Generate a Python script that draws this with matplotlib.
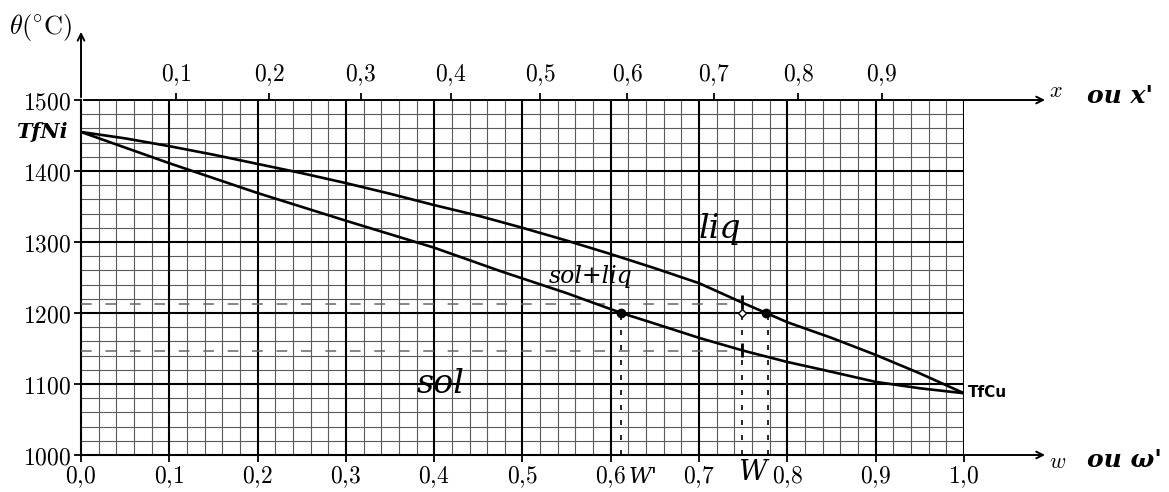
import numpy as np
import matplotlib
matplotlib.use("Agg")
import matplotlib.pyplot as plt

plt.rcParams['mathtext.fontset'] = 'cm'
plt.rcParams['font.family'] = ['DejaVu Serif']

# Data: mass fraction w of Cu and temperature (°C)
liq_w = [0.0, 0.05, 0.1, 0.15, 0.2, 0.25, 0.3, 0.35, 0.4, 0.45, 0.5, 0.55, 0.6,
         0.65, 0.7, 0.75, 0.776, 0.8, 0.85, 0.9, 0.95, 1.0]
liq_T = [1455, 1446, 1435, 1423, 1410, 1397, 1383, 1368, 1352, 1337, 1320, 1302, 1283,
         1263, 1242, 1214, 1200, 1187, 1165, 1141, 1115, 1087]
sol_w = [0.0, 0.1, 0.2, 0.3, 0.4, 0.475, 0.55, 0.612, 0.65, 0.7, 0.75, 0.8, 0.84,
         0.9, 0.95, 1.0]
sol_T = [1455, 1411, 1369, 1330, 1292, 1259, 1228, 1200, 1185, 1165, 1147, 1131, 1120,
         1103, 1094, 1087]
M_Ni, M_Cu = 58.69, 63.55
bottom_ticks = [0.0, 0.1, 0.2, 0.3, 0.4, 0.5, 0.6, 0.7, 0.8, 0.9, 1.0]
top_ticks = [0.1, 0.2, 0.3, 0.4, 0.5, 0.6, 0.7, 0.8, 0.9]
y_ticks = [1000, 1100, 1200, 1300, 1400, 1500]
dots_w = [0.612, 0.776]
dots_T = [1200, 1200]
vlines_w = [0.612, 0.749, 0.778]
vlines_top = [1200, 1215, 1200]
pencil_T = [1212, 1146]

def w2x(w):
    w = np.asarray(w, dtype=float)
    a = w / M_Cu
    b = (1 - w) / M_Ni
    with np.errstate(divide='ignore', invalid='ignore'):
        return a / (a + b)

def x2w(x):
    x = np.asarray(x, dtype=float)
    a = x * M_Cu
    b = (1 - x) * M_Ni
    with np.errstate(divide='ignore', invalid='ignore'):
        return a / (a + b)

def fr(v, nd=1):
    return r'$' + (f'{v:.{nd}f}').replace('.', '{,}') + r'$'

fig = plt.figure(figsize=(11.69, 4.92), dpi=100)
ax = fig.add_axes([0.0693, 0.0752, 0.7553, 0.7215])
ax.set_xlim(0, 1.0)
ax.set_ylim(1000, 1500)

# grid
for v in np.arange(0.02, 1.0, 0.02):
    if abs(v * 10 - round(v * 10)) > 1e-6:
        ax.axvline(v, color='#5a5a5a', lw=0.8, zorder=1)
for v in np.arange(1020, 1500, 20):
    if v % 100 != 0:
        ax.axhline(v, color='#5a5a5a', lw=0.8, zorder=1)
for v in bottom_ticks[1:]:
    ax.axvline(v, color='black', lw=1.5, zorder=2)
for v in y_ticks[1:-1]:
    ax.axhline(v, color='black', lw=1.5, zorder=2)

# pencil dashes
for t in pencil_T:
    ax.plot([0.0, 0.745], [t, t], color='#666666', lw=1.1, ls=(0, (7, 9)), zorder=3)
for w, t in zip(vlines_w, vlines_top):
    ax.plot([w, w], [1000, t], color='black', lw=1.2, ls=(0, (3, 6)), zorder=3)

# curves
ax.plot(liq_w, liq_T, color='black', lw=1.9, zorder=4)
ax.plot(sol_w, sol_T, color='black', lw=1.9, zorder=4)
ax.plot(dots_w, dots_T, 'o', color='black', ms=6, zorder=5)
ax.plot([0.749], [1200], 'D', mfc='white', mec='black', ms=4, zorder=5)
ax.plot([0.749, 0.749], [1215, 1148], '|', color='black', ms=10, mew=2, zorder=5)

# spines / axes
for s in ['right', 'top']:
    ax.spines[s].set_visible(False)
ax.spines['left'].set_linewidth(1.5)
ax.spines['bottom'].set_linewidth(1.5)
ax.set_xticks(bottom_ticks)
ax.set_xticklabels([fr(v) for v in bottom_ticks], fontsize=17)
ax.set_yticks(y_ticks)
ax.set_yticklabels([r'$%d$' % v for v in y_ticks], fontsize=17)
ax.tick_params(axis='both', direction='out', length=5, width=1.3, pad=2)

sec = ax.secondary_xaxis('top', functions=(w2x, x2w))
sec.set_xticks(top_ticks)
sec.set_xticklabels([fr(v) for v in top_ticks], fontsize=17)
sec.tick_params(direction='out', length=5, width=1.3, pad=4)
sec.spines['top'].set_visible(False)

# axis arrows
arr = dict(arrowstyle='->', lw=1.4, color='black', mutation_scale=12)
ax.annotate('', xy=(1.095, 1.0), xytext=(0, 1.0), xycoords='axes fraction',
            textcoords='axes fraction', arrowprops=arr, annotation_clip=False)
ax.annotate('', xy=(1.095, 0.0), xytext=(0, 0.0), xycoords='axes fraction',
            textcoords='axes fraction', arrowprops=arr, annotation_clip=False)
ax.annotate('', xy=(0, 1.2), xytext=(0, 1.0), xycoords='axes fraction',
            textcoords='axes fraction', arrowprops=arr, annotation_clip=False)

# labels
fig.text(0.008, 0.945, r'$\theta(^{\circ}\mathrm{C})$', fontsize=19, va='center', ha='left')
fig.text(0.897, 0.815, r'$x$', fontsize=16, va='center')
fig.text(0.93, 0.805, "ou x'", fontsize=18, style='italic', fontweight='bold', va='center')
fig.text(0.897, 0.060, r'$w$', fontsize=16, va='center')
fig.text(0.93, 0.065, "ou ω'", fontsize=18, style='italic', fontweight='bold', va='center')

ax.text(-0.015, 1455, 'TfNi', fontsize=15, style='italic', fontweight='bold',
        ha='right', va='center', family='DejaVu Serif')
ax.text(1.005, 1088, 'TfCu', fontsize=11, fontweight='bold', ha='left', va='center',
        family='DejaVu Sans')

ax.text(0.70, 1318, 'liq', fontsize=24, style='italic', ha='left', va='center', zorder=6)
ax.text(0.53, 1252, 'sol+liq', fontsize=17, style='italic', ha='left', va='center', zorder=6)
ax.text(0.38, 1100, 'sol', fontsize=24, style='italic', ha='left', va='center', zorder=6)
ax.text(0.62, 985, "W'", fontsize=16, ha='left', va='top', style='italic')
ax.text(0.76, 995, "W", fontsize=20, ha='center', va='top', style='italic')

fig.savefig('out.png', dpi=100)
